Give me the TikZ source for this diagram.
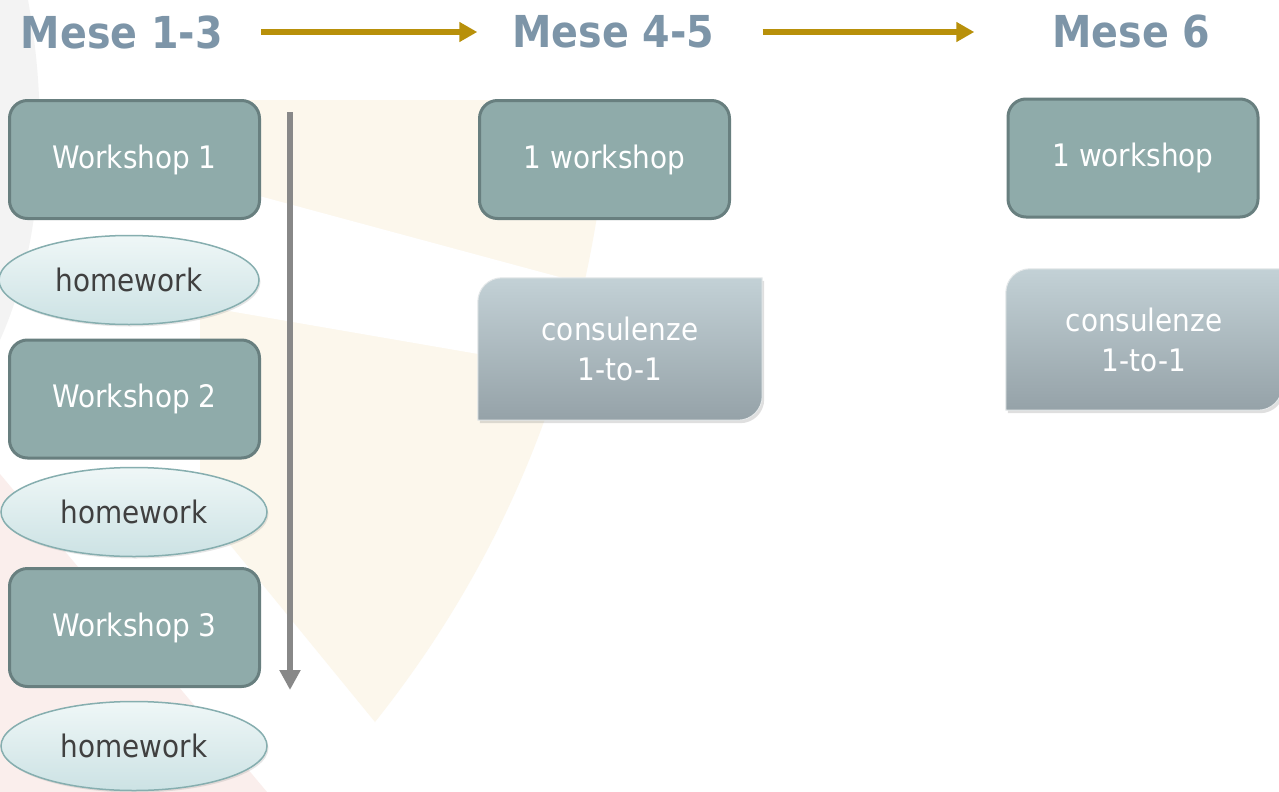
\documentclass[tikz,border=0pt]{standalone}
\usepackage{fontspec}
\setmainfont{DejaVu Sans}[FakeStretch=0.9]
\usetikzlibrary{arrows.meta,shapes.geometric,shadows}

\definecolor{titlegrey}{HTML}{7D95A8}
\definecolor{arrowgold}{HTML}{B8900A}
\definecolor{wsfill}{HTML}{8FABAA}
\definecolor{wsline}{HTML}{687F7F}
\definecolor{hwtop}{HTML}{EFF7F7}
\definecolor{hwbot}{HTML}{CCE2E4}
\definecolor{hwline}{HTML}{86AEAF}
\definecolor{hwtext}{HTML}{404040}
\definecolor{constop}{HTML}{C3D1D6}
\definecolor{consbot}{HTML}{95A2A8}
\definecolor{tlgrey}{HTML}{888888}
\definecolor{bgcream}{HTML}{FCF7EC}
\definecolor{bgpink}{HTML}{FAEEEC}
\definecolor{bggrey}{HTML}{F3F3F3}

\pgfdeclarelayer{bg}
\pgfsetlayers{bg,main}

\tikzset{
    monthtitle/.style={inner sep=0pt, text=titlegrey, font=\fontsize{44}{50}\selectfont\bfseries},
    goldarrow/.style={draw=arrowgold, line width=6pt, -{Triangle[length=18pt,width=19pt]}},
    tlarrow/.style={draw=tlgrey, line width=6pt, -{Triangle[length=20pt,width=20pt]}},
    wsbox/.style={rectangle, rounded corners=18pt, draw=wsline, line width=3pt, fill=wsfill,
        text=white, minimum width=250pt, minimum height=118pt, font=\fontsize{31}{38}\selectfont},
    hwell/.style={ellipse, draw=hwline, line width=1.5pt, top color=hwtop, bottom color=hwbot,
        text=hwtext, minimum height=89pt, inner sep=0pt, font=\fontsize{31}{38}\selectfont,
        drop shadow={shadow xshift=1.5pt, shadow yshift=-2pt, opacity=0.2}},
    consnode/.style={inner sep=0pt, text=white, align=center, font=\fontsize{31}{40}\selectfont}
}

\begin{document}
\begin{tikzpicture}[x=1pt, y=-1pt]
    \useasboundingbox (0,0) rectangle (1279,792);
    \begin{pgfonlayer}{bg}
        \fill[white] (0,0) rectangle (1279,792);
        \fill[bggrey] (0,0) -- (28,0) .. controls (48,110) and (45,240) .. (0,340) -- cycle;
        \fill[bgcream] (200,100) -- (610,100) .. controls (595,330) and (520,540) .. (375,722) -- (200,508) -- cycle;
        \fill[white] (200,180) -- (600,288) -- (600,375) -- (200,306) -- cycle;
        \fill[bgpink] (0,474) -- (267,792) -- (0,792) -- cycle;
    \end{pgfonlayer}

    \node[monthtitle] (m13) at (122,32) {Mese 1-3};
    \node[monthtitle] (m45) at (613.5,32) {Mese 4-5};
    \node[monthtitle] (m6) at (1131.5,32) {Mese 6};
    \draw[goldarrow, shorten <=38pt, shorten >=35pt] (m13) -- (m45);
    \draw[goldarrow, shorten <=48pt, shorten >=78pt] (m45) -- (m6);

    \foreach \i/\yw/\xh/\wh/\yh in {1/159.5/129/260/280, 2/399/134/266/512, 3/627.5/134/266/746} {
        \node[wsbox] (ws\i) at (134.5,\yw) {Workshop \i};
        \node[hwell, minimum width=\wh pt] (hw\i) at (\xh,\yh) {homework};
    }
    \coordinate (tltop) at (290,112);
    \coordinate (tlend) at (290,690);
    \draw[tlarrow] (tltop) -- (tlend);

    \node[wsbox] (ws45) at (604.5,159.5) {1 workshop};
    \node[wsbox] (ws6) at (1133,158) {1 workshop};

    \node[consnode, minimum width=284pt, minimum height=142pt] (cons45) at (620,349) {consulenze\\1-to-1};
    \node[consnode, minimum width=276pt, minimum height=141pt] (cons6) at (1144,339.5) {consulenze\\1-to-1};
    \begin{pgfonlayer}{bg}
        \foreach \c in {cons45, cons6} {
            \shade[top color=constop, bottom color=consbot, draw=white!75!consbot, line width=1pt,
                drop shadow={shadow xshift=2pt, shadow yshift=-3pt, opacity=0.25}]
                (\c.south west) -- ([yshift=-24pt]\c.north west) arc[start angle=180, end angle=90, radius=24pt]
                -- (\c.north east) -- ([yshift=24pt]\c.south east) arc[start angle=0, end angle=-90, radius=24pt]
                -- cycle;
        }
    \end{pgfonlayer}
\end{tikzpicture}
\end{document}
